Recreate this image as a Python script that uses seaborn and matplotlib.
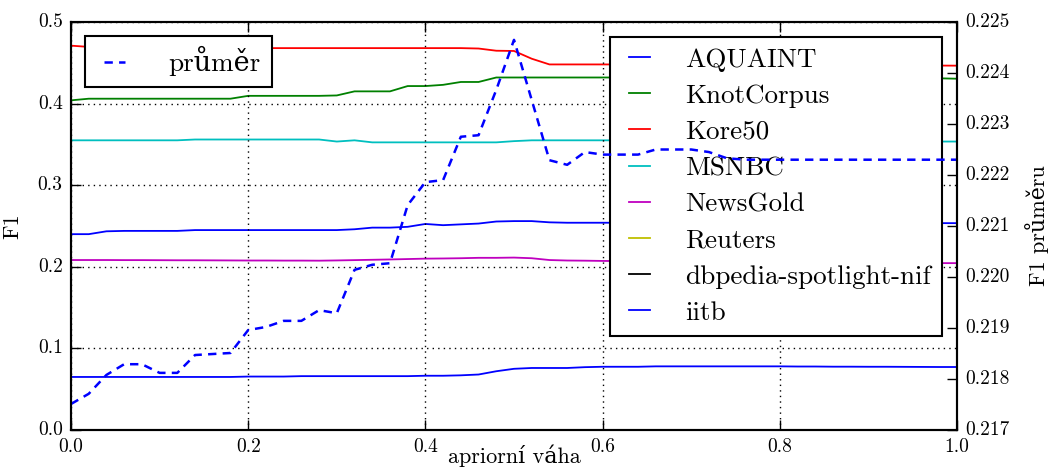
import matplotlib
matplotlib.use("Agg")
import matplotlib.pyplot as plt
import seaborn as sns
import numpy as np

# ---------------- data ----------------
weights = [0.00, 0.02, 0.04, 0.06, 0.08, 0.10, 0.12, 0.14, 0.16, 0.18,
           0.20, 0.22, 0.24, 0.26, 0.28, 0.30, 0.32, 0.34, 0.36, 0.38,
           0.40, 0.42, 0.44, 0.46, 0.48, 0.50, 0.52, 0.54, 0.56, 0.58,
           0.60, 0.62, 0.64, 0.66, 0.68, 0.70, 0.72, 0.74, 0.76, 0.78,
           0.80, 0.82, 0.84, 0.86, 0.88, 0.90, 0.92, 0.94, 0.96, 0.98, 1.00]

aquaint = [0.240, 0.240, 0.2435, 0.244, 0.244, 0.244, 0.244, 0.245, 0.245, 0.245,
           0.245, 0.245, 0.245, 0.245, 0.245, 0.245, 0.246, 0.248, 0.248, 0.249,
           0.2525, 0.251, 0.252, 0.253, 0.2555, 0.256, 0.256, 0.2545, 0.254, 0.254,
           0.254, 0.254, 0.254, 0.254, 0.254, 0.254, 0.254, 0.254, 0.254, 0.254,
           0.254, 0.254, 0.254, 0.2538, 0.2538, 0.2537, 0.2537, 0.2536, 0.2536, 0.2535, 0.2535]

knotcorpus = [0.404, 0.406, 0.406, 0.406, 0.406, 0.406, 0.406, 0.406, 0.406, 0.406,
              0.4095, 0.4095, 0.4095, 0.4095, 0.4095, 0.410, 0.415, 0.415, 0.415, 0.4215,
              0.4215, 0.423, 0.4265, 0.4265, 0.432, 0.432, 0.432, 0.432, 0.432, 0.432,
              0.432, 0.432, 0.432, 0.432, 0.432, 0.432, 0.432, 0.432, 0.432, 0.432,
              0.432, 0.4315, 0.4315, 0.4315, 0.4315, 0.431, 0.431, 0.431, 0.431, 0.431, 0.4305]

kore50 = [0.471, 0.4695, 0.4695, 0.4695, 0.4695, 0.4695, 0.4695, 0.4695, 0.4695, 0.4695,
          0.468, 0.468, 0.468, 0.468, 0.468, 0.468, 0.468, 0.468, 0.468, 0.468,
          0.468, 0.468, 0.468, 0.4675, 0.4648, 0.4645, 0.455, 0.448, 0.448, 0.448,
          0.448, 0.448, 0.448, 0.448, 0.448, 0.448, 0.448, 0.448, 0.448, 0.4475,
          0.4475, 0.4475, 0.4475, 0.447, 0.447, 0.447, 0.447, 0.4468, 0.4467, 0.4466, 0.4465]

msnbc = [0.355, 0.355, 0.355, 0.355, 0.355, 0.355, 0.355, 0.356, 0.356, 0.356,
         0.356, 0.356, 0.356, 0.356, 0.356, 0.3535, 0.355, 0.3525, 0.3525, 0.3525,
         0.3525, 0.3525, 0.3525, 0.3525, 0.3525, 0.354, 0.355, 0.355, 0.355, 0.355,
         0.355, 0.355, 0.355, 0.355, 0.355, 0.355, 0.355, 0.355, 0.355, 0.355,
         0.3545, 0.3545, 0.3545, 0.3545, 0.354, 0.354, 0.354, 0.354, 0.3535, 0.3535, 0.3535]

newsgold = [0.2083, 0.2083, 0.2083, 0.2082, 0.2082, 0.2081, 0.2080, 0.2080, 0.2079, 0.2078,
            0.2077, 0.2077, 0.2076, 0.2076, 0.2075, 0.2078, 0.2082, 0.2086, 0.2090, 0.2095,
            0.2100, 0.2102, 0.2105, 0.2110, 0.2110, 0.2113, 0.2105, 0.2083, 0.2077, 0.2075,
            0.2072, 0.2070, 0.2068, 0.2066, 0.2064, 0.2062, 0.2060, 0.2058, 0.2056, 0.2055,
            0.2054, 0.2053, 0.2052, 0.2051, 0.2050, 0.2049, 0.2048, 0.2047, 0.2046, 0.2045, 0.2045]

reuters = [0.0] * 51
dbpedia = [0.0] * 51

iitb = [0.065, 0.065, 0.065, 0.065, 0.065, 0.065, 0.065, 0.065, 0.065, 0.065,
        0.0655, 0.0655, 0.0655, 0.066, 0.066, 0.066, 0.066, 0.066, 0.066, 0.066,
        0.0665, 0.0665, 0.067, 0.068, 0.072, 0.075, 0.076, 0.076, 0.076, 0.077,
        0.0775, 0.0775, 0.0775, 0.078, 0.078, 0.078, 0.078, 0.078, 0.078, 0.078,
        0.078, 0.0778, 0.0778, 0.0776, 0.0776, 0.0775, 0.0775, 0.0774, 0.0773, 0.0772, 0.0772]

average = [0.21751, 0.21771, 0.21808, 0.21829, 0.21829, 0.21812, 0.21812, 0.21847, 0.21849, 0.21851,
           0.21896, 0.21902, 0.21914, 0.21914, 0.21935, 0.21929, 0.22014, 0.22024, 0.22027, 0.22141,
           0.22186, 0.22190, 0.22275, 0.22278, 0.22367, 0.22465, 0.22347, 0.22229, 0.22220, 0.22245,
           0.22240, 0.22240, 0.22240, 0.22250, 0.22250, 0.22250, 0.22245, 0.22233, 0.22230, 0.22230,
           0.22230, 0.22230, 0.22230, 0.22230, 0.22230, 0.22230, 0.22230, 0.22230, 0.22230, 0.22230, 0.22230]

series_names = ["AQUAINT", "KnotCorpus", "Kore50", "MSNBC", "NewsGold",
                "Reuters", "dbpedia-spotlight-nif", "iitb"]
series_values = [aquaint, knotcorpus, kore50, msnbc, newsgold, reuters, dbpedia, iitb]
series_colors = ["b", "g", "r", "c", "m", "y", "k", "b"]

x_ticks = [0.0, 0.2, 0.4, 0.6, 0.8, 1.0]
y_ticks = [0.0, 0.1, 0.2, 0.3, 0.4, 0.5]
y2_ticks = [0.217, 0.218, 0.219, 0.220, 0.221, 0.222, 0.223, 0.224, 0.225]

# ---------------- style ----------------
plt.style.use("classic")
plt.rcParams["font.family"] = ["cmr10", "DejaVu Serif"]
plt.rcParams["axes.formatter.use_mathtext"] = True
plt.rcParams["figure.facecolor"] = "white"
plt.rcParams["savefig.facecolor"] = "white"
plt.rcParams["axes.linewidth"] = 1.5

fig = plt.figure(figsize=(10.48, 4.71), dpi=100)
ax1 = fig.add_axes([71 / 1048, 1 - 430 / 471, (957 - 71) / 1048, (430 - 22) / 471])

for name, vals, col in zip(series_names, series_values, series_colors):
    sns.lineplot(x=weights, y=vals, ax=ax1, color=col, linewidth=1.3, label=name)

ax1.set_xlim(0, 1)
ax1.set_ylim(0, 0.5)
ax1.set_xticks(x_ticks)
ax1.set_yticks(y_ticks)
ax1.set_xticklabels([f"{v:.1f}" for v in x_ticks])
ax1.set_yticklabels([f"{v:.1f}" for v in y_ticks])
ax1.grid(True, color="k", linestyle=(0, (1, 3)), linewidth=1.0)
ax1.tick_params(axis="both", which="major", labelsize=14, direction="in",
                length=7, width=1, top=True, pad=6)
ax1.set_xlabel("apriorní váha", fontsize=16)
ax1.set_ylabel("F1", fontsize=16)
ax1.xaxis.set_label_coords(0.5, -0.035)
ax1.yaxis.set_label_coords(-0.055, 0.5)

leg1 = ax1.legend(loc="upper right", fontsize=19.5, handlelength=1.37,
                  handletextpad=1.0, labelspacing=0.45, borderpad=0.4,
                  borderaxespad=0.55, fancybox=False, frameon=True)
leg1.get_frame().set_edgecolor("k")
leg1.get_frame().set_linewidth(1.5)

ax2 = ax1.twinx()
sns.lineplot(x=weights, y=average, ax=ax2, color="b", linewidth=1.8,
             linestyle="--", label="průměr")
ax2.lines[0].set_dashes((6, 4.5))
ax2.set_ylim(0.217, 0.225)
ax2.set_yticks(y2_ticks)
ax2.set_yticklabels([f"{v:.3f}" for v in y2_ticks])
ax2.tick_params(axis="y", labelsize=14, direction="in", length=7, width=1, pad=6)
ax2.set_ylabel("F1 průměru", fontsize=16)
ax2.yaxis.set_label_coords(1.077, 0.5)

leg2 = ax2.legend(loc="upper left", fontsize=19.5, handlelength=1.4,
                  handletextpad=1.3, borderpad=0.4, fancybox=False, frameon=True)
leg2.get_frame().set_edgecolor("k")
leg2.get_frame().set_linewidth(1.5)
leg2.get_lines()[0].set_dashes((6, 4.5))

fig.savefig("out.png", dpi=100)
